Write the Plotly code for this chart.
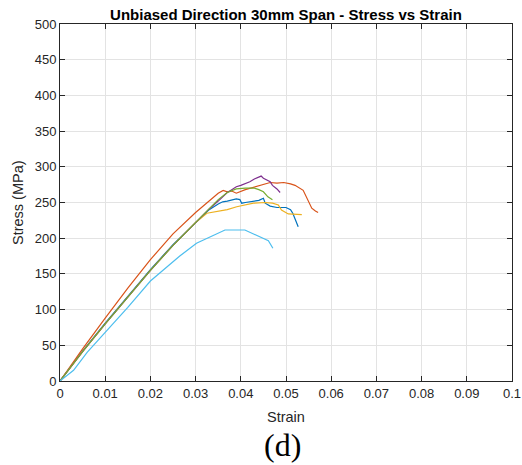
import plotly.graph_objects as go

# ---- data ----
s1_strain = [0, .005, .01, .015, .02, .025, .03, .033, .035, .036, .037, .038, .039, .0398, .0402, .041, .042, .043, .044, .045, .0454, .0465, .048, .050, .051, .0515, .052, .0527]
s1_stress = [0, 42, 81, 119, 156, 191, 222, 240, 248, 251, 252, 254, 255, 254, 249, 250, 251, 252, 253, 256, 249, 245, 243, 243, 240, 235, 226, 216]

s2_strain = [0, .005, .01, .015, .02, .025, .03, .033, .035, .0361, .037, .038, .039, .041, .043, .045, .0465, .048, .0495, .051, .052, .0538, .0546, .0557, .0565, .0571]
s2_stress = [0, 45, 88, 130, 170, 206, 236, 253, 263, 267, 265, 266, 263, 268, 272, 275, 278, 277, 278, 276, 274, 267, 256, 242, 238, 236]

s3_strain = [0, .005, .01, .015, .02, .025, .03, .0325, .0347, .037, .0391, .041, .0428, .0454, .047, .0483, .049, .0505, .052, .0535]
s3_stress = [0, 41, 80, 118, 155, 190, 222, 235, 237, 240, 244, 247, 249, 250, 249, 246.5, 239.5, 234, 233, 233]

s4_strain = [0, .005, .01, .015, .02, .025, .03, .033, .035, .037, .038, .039, .040, .041, .042, .043, .044, .0445, .045, .046, .0465, .047, .048, .0487]
s4_stress = [0, 41, 80, 118, 155, 190, 222, 241, 252, 264, 268, 272, 274, 276, 279, 283, 286, 287, 284, 281, 279, 274, 269, 264]

s5_strain = [0, .005, .01, .015, .02, .025, .03, .033, .035, .037, .039, .041, .043, .044, .045, .046, .047]
s5_stress = [0, 41, 80, 118, 155, 190, 222, 241, 254, 264, 269, 270, 270, 268, 265, 258, 254]

s6_strain = [0, .003, .006, .01, .015, .02, .0265, .0302, .0339, .0365, .0409, .0435, .0461, .0471]
s6_stress = [0, 15, 40, 68, 103, 140, 175, 193, 204.5, 211.5, 211.5, 204.5, 196.5, 186]

series = [
    (s1_strain, s1_stress, "#0072BD"),
    (s2_strain, s2_stress, "#D95319"),
    (s3_strain, s3_stress, "#EDB120"),
    (s4_strain, s4_stress, "#7E2F8E"),
    (s5_strain, s5_stress, "#77AC30"),
    (s6_strain, s6_stress, "#4DBEEE"),
]

x_ticks = [0, 0.01, 0.02, 0.03, 0.04, 0.05, 0.06, 0.07, 0.08, 0.09, 0.1]
x_tick_text = ["0", "0.01", "0.02", "0.03", "0.04", "0.05", "0.06", "0.07", "0.08", "0.09", "0.1"]
y_ticks = list(range(0, 501, 50))

W, H = 522, 465
L, R, T, B = 60, 10, 24, 84
PW, PH = W - L - R, H - T - B

fig = go.Figure()
for xs, ys, c in series:
    fig.add_trace(go.Scatter(x=xs, y=ys, mode="lines", line=dict(color=c, width=1.2), showlegend=False))

axis_common = dict(
    showline=True, linecolor="#262626", linewidth=1, mirror="ticks",
    ticks="inside", ticklen=5, tickcolor="#262626",
    showgrid=True, gridcolor="#e3e3e3", gridwidth=1, zeroline=False,
    automargin=False,
    tickfont=dict(family="Liberation Sans, Arial", size=13, color="#262626"),
)

sans = "Liberation Sans, Arial"
fig.update_layout(
    width=W, height=H,
    margin=dict(l=L, r=R, t=T, b=B),
    paper_bgcolor="white", plot_bgcolor="white",
    title=dict(text="<b>Unbiased Direction 30mm Span - Stress vs Strain</b>",
               x=(L + L + PW) / 2 / W, xanchor="center", y=1 - 14.5 / H, yanchor="middle",
               font=dict(family=sans, size=15, color="black")),
    xaxis=dict(range=[0, 0.1], tickvals=x_ticks, ticktext=x_tick_text, **axis_common),
    yaxis=dict(range=[0, 500], tickvals=y_ticks, **axis_common),
    annotations=[
        dict(text="Strain", xref="paper", yref="paper", x=(286 - L) / PW, y=-35.7 / PH,
             xanchor="center", yanchor="middle", showarrow=False,
             font=dict(family=sans, size=14.5, color="#262626")),
        dict(text="Stress (MPa)", xref="paper", yref="paper", x=-42 / PW, y=(H - B - 203) / PH,
             xanchor="center", yanchor="middle", showarrow=False, textangle=-90,
             font=dict(family=sans, size=14.5, color="#262626")),
        dict(text="(d)", xref="paper", yref="paper", x=(282 - L) / PW, y=-(445 - (H - B)) / PH,
             xanchor="center", yanchor="middle", showarrow=False,
             font=dict(family="Liberation Serif, Times New Roman", size=32, color="black")),
    ],
)

fig.write_html("out.html")
